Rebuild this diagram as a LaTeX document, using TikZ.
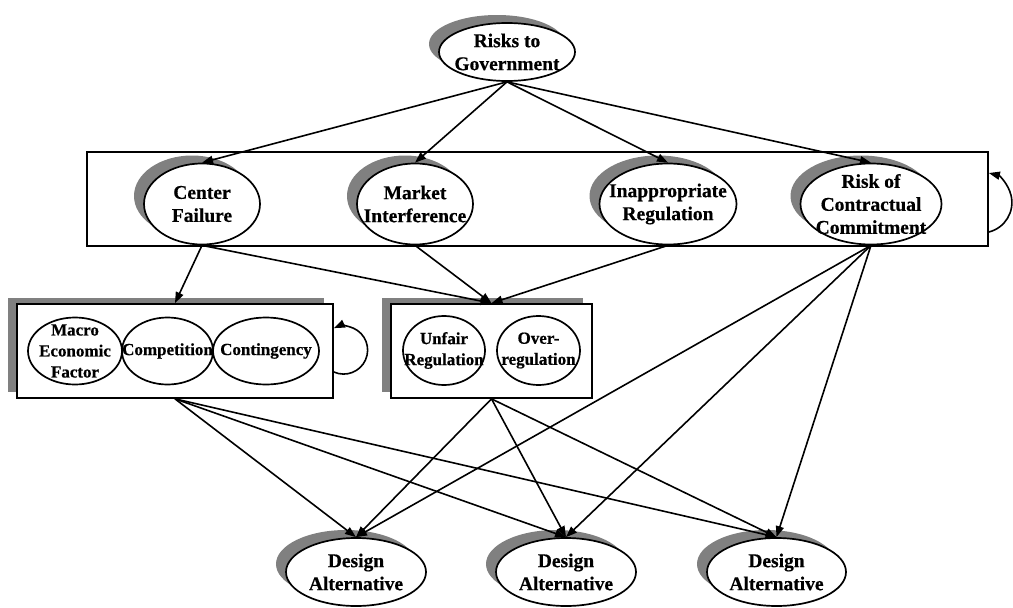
\documentclass[tikz,border=0pt]{standalone}
\usepackage{fontspec}
\setmainfont{Liberation Serif}[BoldFeatures={FakeBold=0.5}]
\usetikzlibrary{shapes.geometric,shadows,arrows.meta}
\definecolor{shadowgray}{RGB}{128,128,128}
\begin{document}
\begin{tikzpicture}[x=1pt,y=-1pt,
  ell/.style={ellipse, draw, line width=1.7pt, fill=white, inner sep=0pt},
  shd/.style={drop shadow={shadow xshift=-10pt, shadow yshift=8pt, fill=shadowgray, opacity=1}},
  box/.style={rectangle, draw, line width=1.7pt, fill=white, inner sep=0pt},
  bshd/.style={drop shadow={shadow xshift=-9pt, shadow yshift=6pt, fill=shadowgray, opacity=1}},
  bigtxt/.style={font=\bfseries\fontsize{19.5}{23}\selectfont, align=center, inner sep=0pt},
  smalltxt/.style={font=\bfseries\fontsize{17}{21}\selectfont, align=center, inner sep=0pt},
  arr/.style={-{Triangle[length=11pt,width=8pt]}, line width=1.6pt},
]
\useasboundingbox (0,0) rectangle (1013,608);
\fill[white] (0,0) rectangle (1013,608);

% top
\node[ell, shd, minimum width=136pt, minimum height=58pt] (rg) at (507,52) {};
\node[bigtxt] (rgt) at (rg) {Risks to\\Government};

% big box
\node[box, minimum width=901pt, minimum height=94pt] (topbox) at (537.5,199) {};
\node[ell, shd, minimum width=116pt, minimum height=81pt] (cf) at (202,204) {};
\node[bigtxt] (cft) at (cf) {Center\\Failure};
\node[ell, shd, minimum width=116pt, minimum height=81pt] (mi) at (415,204) {};
\node[bigtxt] (mit) at (mi) {Market\\Interference};
\node[ell, shd, minimum width=137pt, minimum height=81pt] (ir) at (668,204) {};
\node[bigtxt] (irt) at (ir) {Inappropriate\\Regulation};
\node[ell, shd, minimum width=141pt, minimum height=81pt] (rcc) at (871,204) {};
\node[bigtxt] (rcct) at (rcc) {Risk of\\Contractual\\Commitment};

% left box
\node[box, bshd, minimum width=316pt, minimum height=94pt] (lbox) at (175,351) {};
\node[ell, minimum width=94pt, minimum height=67pt] (mef) at (75,351) {};
\node[smalltxt] (meft) at (mef) {Macro\\Economic\\Factor};
\node[ell, minimum width=91pt, minimum height=67pt] (comp) at (167.5,351) {};
\node[smalltxt] (compt) at (comp) {Competition};
\node[ell, minimum width=106pt, minimum height=67pt] (cont) at (266,351) {};
\node[smalltxt] (contt) at (cont) {Contingency};

% right box
\node[box, bshd, minimum width=201pt, minimum height=94pt] (rbox) at (491.5,351) {};
\node[ell, minimum width=82pt, minimum height=69pt] (unf) at (444,350.5) {};
\node[smalltxt] (unft) at (unf) {Unfair\\Regulation};
\node[ell, minimum width=83pt, minimum height=69pt] (ovr) at (538.5,350.5) {};
\node[smalltxt] (ovrt) at (ovr) {Over-\\regulation};

% design alternatives
\node[ell, shd, minimum width=140pt, minimum height=68pt] (da1) at (356,572) {};
\node[bigtxt] (da1t) at (da1) {Design\\Alternative};
\node[ell, shd, minimum width=140pt, minimum height=68pt] (da2) at (566,572) {};
\node[bigtxt] (da2t) at (da2) {Design\\Alternative};
\node[ell, shd, minimum width=139pt, minimum height=68pt] (da3) at (776.5,572) {};
\node[bigtxt] (da3t) at (da3) {Design\\Alternative};

% connectors
\draw[arr] (rg.south) -- (cf.north);
\draw[arr] (rg.south) -- (mi.north);
\draw[arr] (rg.south) -- (ir.north);
\draw[arr] (rg.south) -- (rcc.north);

\draw[arr] (cf.south) -- (lbox.north);
\draw[arr] (cf.south) -- (rbox.north);
\draw[arr] (mi.south) -- (rbox.north);
\draw[arr] (ir.south) -- (rbox.north);

\foreach \s in {lbox,rbox,rcc}{
  \foreach \d in {da1,da2,da3}{
    \draw[arr] (\s.south) -- (\d.north);
  }
}

% self loops
\draw[arr] ([yshift=-33pt]topbox.east) arc[start angle=-76, end angle=76, radius=30.4pt];
\draw[arr] ([yshift=-21pt]lbox.east) arc[start angle=-114, end angle=114, radius=24pt];
\end{tikzpicture}
\end{document}
